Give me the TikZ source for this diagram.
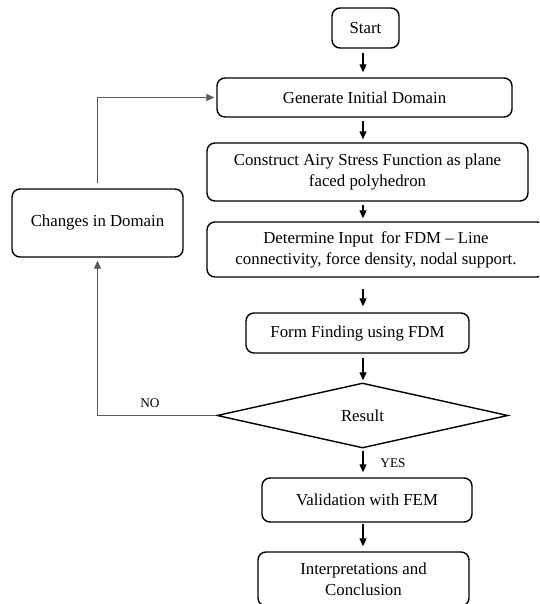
\documentclass[tikz,border=0pt]{standalone}
\usepackage{fontspec}
\setmainfont{Liberation Serif}
\usetikzlibrary{arrows.meta,shapes.geometric}
\newcommand\mainsz{\fontsize{16.8}{21}\selectfont}
\newcommand\labsz{\fontsize{13.3}{16}\selectfont}
\begin{document}
\begin{tikzpicture}[x=1pt,y=-1pt,
  box/.style={draw, line width=1.4pt, rounded corners=8pt, align=center, inner sep=0pt, font=\mainsz},
  decision/.style={draw, diamond, line width=1.4pt, inner sep=0pt, shape aspect=4.5, font=\mainsz},
  flow/.style={-{Triangle[length=8pt,width=7pt]}, line width=1.1pt, shorten <=3pt, shorten >=3pt},
  back/.style={-{Triangle[length=8pt,width=7pt]}, line width=0.9pt, draw=black!65},
  lab/.style={font=\labsz, inner sep=0pt}]
\useasboundingbox (0,0) rectangle (539,604);
\fill[white] (0,0) rectangle (539,604);
\clip (0,0) rectangle (539,604);
\coordinate (ax) at (363,0);
\node[box, minimum width=67pt, minimum height=40pt] (start) at (365.5,28) {Start};
\node[box, minimum width=295pt, minimum height=39pt] (gen) at (364.5,97.5) {Generate Initial Domain};
\node[box, minimum width=321pt, minimum height=58pt] (airy) at (367.5,172) {Construct Airy Stress Function as plane\\faced polyhedron};
\node[box, minimum width=338pt, minimum height=55pt] (fdm) at (376,249.5) {Determine Input\, for FDM -- Line\\connectivity, force density, nodal support.};
\node[box, minimum width=223pt, minimum height=40pt] (form) at (357.5,333) {Form Finding using FDM};
\node[decision, minimum width=291pt, minimum height=65pt] (res) at (362.5,415.5) {Result};
\node[box, minimum width=210pt, minimum height=44pt] (val) at (367,500) {Validation with FEM};
\node[box, minimum width=211pt, minimum height=54pt] (interp) at (363.5,579) {Interpretations and\\Conclusion};
\node[box, minimum width=171pt, minimum height=68pt] (chg) at (97.5,223) {\raisebox{4pt}{Changes in Domain}};
\draw[flow, shorten <=4pt, shorten >=5pt] (start.south -| ax) -- (gen.north -| ax);
\draw[flow] (gen.south -| ax) -- (airy.north -| ax);
\draw[flow] (airy.south -| ax) -- (fdm.north -| ax);
\draw[flow, shorten <=11pt, shorten >=6pt] (fdm.south -| ax) -- (form.north -| ax);
\draw[flow, shorten <=4pt, shorten >=2pt] (form.south -| ax) -- (res.north -| ax);
\draw[flow, shorten <=2pt, shorten >=5pt] (res.south -| ax) -- (val.north -| ax);
\draw[flow, shorten <=1pt, shorten >=5pt] (val.south -| ax) -- (interp.north -| ax);
\draw[back, shorten >=3pt] (res.west) -| (chg.south);
\draw[back, shorten <=5pt, shorten >=2pt] (chg.north) |- (gen.west);
\node[lab] (no) at (150,403) {NO};
\node[lab] (yes) at (393,463) {YES};
\end{tikzpicture}
\end{document}
